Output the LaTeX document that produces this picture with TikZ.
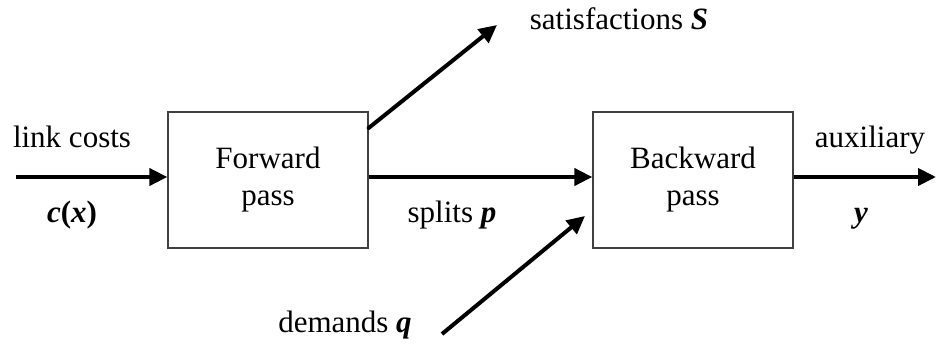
\documentclass[tikz,border=0pt]{standalone}
\usepackage{fontspec}
\setmainfont{Liberation Serif}
\usetikzlibrary{arrows.meta}
\newcommand{\bv}[1]{{\bfseries\itshape #1}}
\begin{document}
\begin{tikzpicture}[
    x=1pt, y=-1pt,
    every node/.style={font=\fontsize{31}{37}\selectfont},
    pass/.style={rectangle, draw=black!75, line width=1.3pt, minimum width=200pt, minimum height=136pt, align=center},
    label/.style={anchor=base, inner sep=0pt},
    arrow/.style={-{Triangle[length=18pt,width=17pt]}, line width=4pt}
]
    \useasboundingbox (0,0) rectangle (938,353);
    \node[pass] (fwd) at (268,180) {Forward\\pass};
    \node[pass] (bwd) at (693,180) {Backward\\pass};

    \coordinate (costsIn) at (16,177);
    \coordinate (auxOut) at (936,177);
    \coordinate (satEnd) at (497,25);
    \coordinate (demStart) at (442,334);
    \coordinate (demEnd) at (585,216);

    \node[label] (costs) at (72,147) {link costs};
    \node[label] (cx) at (72,222) {\bv{c}\textbf{(}\bv{x}\textbf{)}};
    \node[label] (splits) at (452,222) {splits \bv{p}};
    \node[label] (sat) at (619,30) {satisfactions \bv{S}};
    \node[label] (aux) at (870,147) {auxiliary};
    \node[label] (yv) at (861,222) {\bv{y}};
    \node[label] (dem) at (345,332) {demands \bv{q}};

    \draw[arrow] (costsIn) -- (fwd.west |- costsIn);
    \draw[arrow] (fwd.east |- costsIn) -- (bwd.west |- costsIn);
    \draw[arrow] (bwd.east |- auxOut) -- (auxOut);
    \draw[arrow, line cap=round] ([yshift=52pt]fwd.east) -- (satEnd);
    \draw[arrow] (demStart) -- (demEnd);
\end{tikzpicture}
\end{document}
